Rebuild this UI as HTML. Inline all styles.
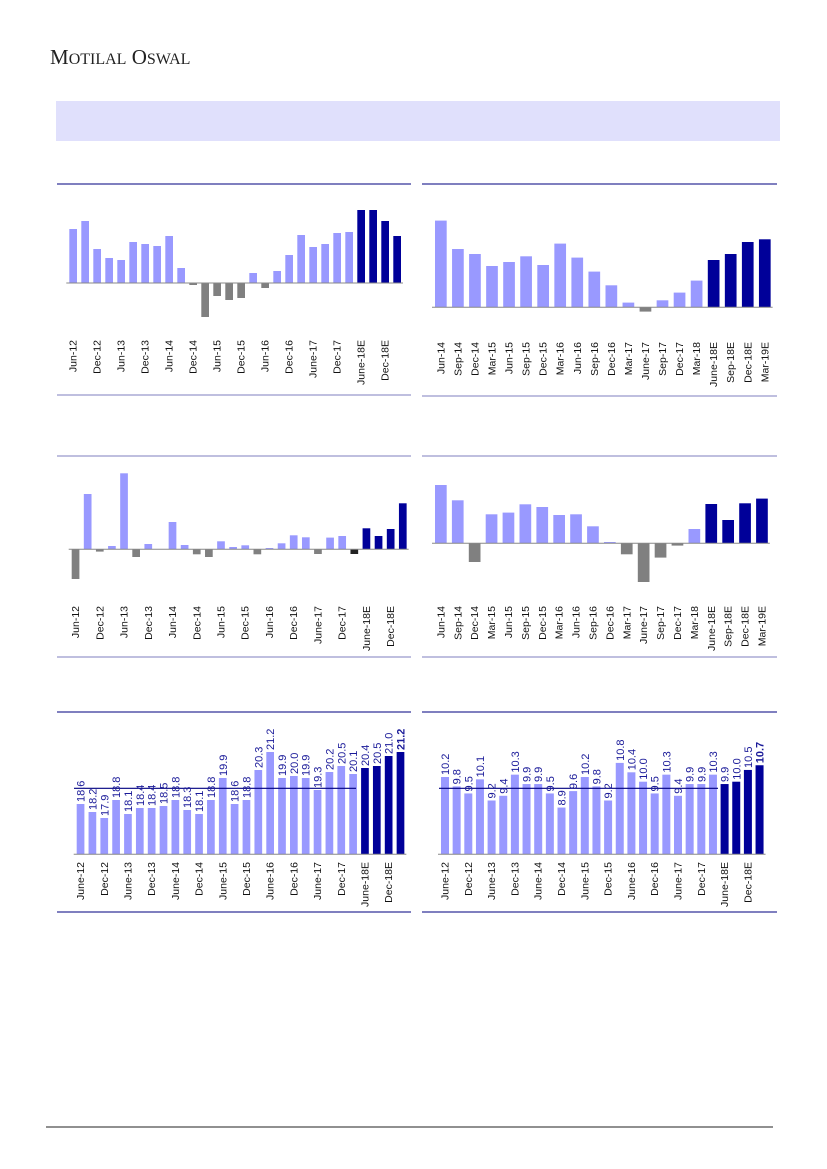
<!DOCTYPE html>
<html><head><meta charset="utf-8">
<style>
html,body{margin:0;padding:0;background:#fff;}
svg{display:block;}
</style></head>
<body>
<svg id="s" width="827" height="1169" xmlns="http://www.w3.org/2000/svg" font-family="Liberation Sans, sans-serif">
<rect width="827" height="1169" fill="#fff"/>
<text x="50" y="64" font-family="Liberation Serif, serif" font-size="21" fill="#222">M<tspan font-size="16">OTILAL</tspan> O<tspan font-size="16">SWAL</tspan></text>
<rect x="56" y="101" width="724" height="40" fill="#e0e0fc"/>
<line x1="46" y1="1127" x2="773" y2="1127" stroke="#222" stroke-width="1"/>
<g id="g"></g>
</svg>
<script>
var NS="http://www.w3.org/2000/svg",G=document.getElementById('g');
function el(t,a,txt){var e=document.createElementNS(NS,t);for(var k in a)e.setAttribute(k,a[k]);if(txt!=null)e.textContent=txt;G.appendChild(e);return e;}
var L='#9999ff',D='#000099',Y='#808080';
function chart(o){
 el('line',{x1:o.lx1,y1:o.ty,x2:o.lx2,y2:o.ty,stroke:o.tc,'stroke-width':1.3});
 el('line',{x1:o.lx1,y1:o.by,x2:o.lx2,y2:o.by,stroke:o.bc,'stroke-width':1.3});
 var n=o.h.length;
 for(var i=0;i<n;i++){
  var x=o.x0+i*o.st,h=o.h[i],c=i>=n-o.nd?D:(h<0?Y:L);
  if(o.blk&&o.blk.indexOf(i)>=0)c='#222';
  el('rect',{x:x,y:h>=0?o.base-h:o.base,width:o.w,height:Math.abs(h),fill:c});
 }
 el('line',{x1:o.x0-3,y1:o.base,x2:o.x0+(n-1)*o.st+o.w+2,y2:o.base,stroke:'#888','stroke-width':1});
 for(var j=0;j<o.labs.length;j++){
  var i2=j*o.le,cx=o.x0+i2*o.st+o.w/2+3.5;
  el('text',{x:0,y:0,transform:'translate('+cx+','+o.ly+') rotate(-90)','text-anchor':'end','font-size':10.5,fill:'#111'},o.labs[j]);
 }
}
var labA=['Jun-12','Dec-12','Jun-13','Dec-13','Jun-14','Dec-14','Jun-15','Dec-15','Jun-16','Dec-16','June-17','Dec-17','June-18E','Dec-18E'];
var labB=['Jun-14','Sep-14','Dec-14','Mar-15','Jun-15','Sep-15','Dec-15','Mar-16','Jun-16','Sep-16','Dec-16','Mar-17','June-17','Sep-17','Dec-17','Mar-18','June-18E','Sep-18E','Dec-18E','Mar-19E'];
var labC=['June-12','Dec-12','June-13','Dec-13','June-14','Dec-14','June-15','Dec-15','June-16','Dec-16','June-17','Dec-17','June-18E','Dec-18E'];
chart({lx1:57,lx2:411,ty:184,by:395,tc:'#333399',bc:'#9999cc',x0:69.3,st:12,w:7.7,base:283,nd:4,le:2,ly:340,labs:labA,
 h:[54,62,34,25,23,41,39,37,47,15,-2,-34,-13,-17,-15,10,-5,12,28,48,36,39,50,51,73,73,62,47]});
chart({lx1:422,lx2:777,ty:184,by:396,tc:'#333399',bc:'#9999cc',x0:435,st:17.05,w:11.7,base:307.3,nd:4,le:1,ly:342,labs:labB,
 h:[86.7,58.3,53.3,41.3,45.3,51,42.3,63.7,49.7,35.7,22,4.7,-4.3,7,14.7,26.7,47.3,53.3,65.3,68]});
chart({lx1:57,lx2:411,ty:456,by:657,tc:'#9999cc',bc:'#9999cc',x0:71.7,st:12.12,w:7.7,base:549.3,nd:4,le:2,ly:606,labs:labA,blk:[23],
 h:[-29.7,55.3,-2.3,3.3,76,-7.7,5.3,0,27.3,4.3,-5,-7.7,8,2.3,4,-5,1.3,6,14,12,-4.7,11.7,13.3,-4.7,21,13.3,20.3,46]});
chart({lx1:422,lx2:777,ty:456,by:657,tc:'#9999cc',bc:'#9999cc',x0:435,st:16.9,w:11.7,base:543.3,nd:4,le:1,ly:606,labs:labB,
 h:[58.3,43,-18.7,29,30.7,39,36.3,28.3,29,17,1.3,-11,-38.7,-14.3,-2.3,14.3,39.3,23.3,40,44.7]});
function vchart(o){
 var hs=o.v.map(function(v){return o.h0+(v-o.v0)*o.k;});
 chart({lx1:o.lx1,lx2:o.lx2,ty:712,by:912,tc:'#333399',bc:'#333399',x0:o.x0,st:o.st,w:o.w,base:854.3,nd:4,le:2,ly:862,labs:labC,h:hs});
 el('line',{x1:o.hx1,y1:788.3,x2:o.hx2,y2:788.3,stroke:'#000080','stroke-width':1.2});
 for(var i=0;i<o.v.length;i++){
  var cx=o.x0+i*o.st+o.w/2+4,ty=854.3-hs[i]-2;
  var a={x:0,y:0,transform:'translate('+cx+','+ty+') rotate(-90)','font-size':11,fill:'#1a1a99'};
  if(i==o.v.length-1)a['font-weight']='bold';
  el('text',a,o.v[i].toFixed(1));
 }
}
vchart({lx1:57,lx2:411,x0:76.7,st:11.85,w:7.7,h0:50.3,v0:18.6,k:20,hx1:74,hx2:356,
 v:[18.6,18.2,17.9,18.8,18.1,18.4,18.4,18.5,18.8,18.3,18.1,18.8,19.9,18.6,18.8,20.3,21.2,19.9,20.0,19.9,19.3,20.2,20.5,20.1,20.4,20.5,21.0,21.2]});
vchart({lx1:422,lx2:777,x0:441,st:11.65,w:8,h0:77.3,v0:10.2,k:23.5,hx1:439,hx2:718,
 v:[10.2,9.8,9.5,10.1,9.2,9.4,10.3,9.9,9.9,9.5,8.9,9.6,10.2,9.8,9.2,10.8,10.4,10.0,9.5,10.3,9.4,9.9,9.9,10.3,9.9,10.0,10.5,10.7]});
</script>
</body></html>
